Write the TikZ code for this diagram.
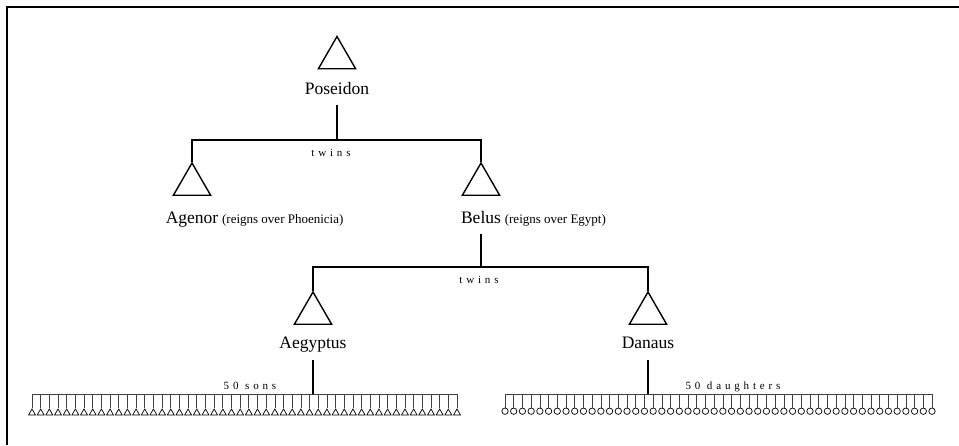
\documentclass[tikz,border=0pt]{standalone}
\usepackage{fontspec}
\setmainfont{Liberation Serif}
\newfontfamily\spacedfont[LetterSpace=35]{Liberation Serif}
\usetikzlibrary{shapes.geometric, positioning}
\tikzset{
  person/.style={font=\fontsize{17.5}{20}\selectfont, inner xsep=0pt, inner ysep=7pt, text depth=4pt},
  note/.style={font=\fontsize{13}{15}\selectfont, inner sep=0pt},
  tag/.style={font=\spacedfont\fontsize{11}{13}\selectfont, inner sep=0pt},
  male/.style={draw, regular polygon, regular polygon sides=3, minimum size=43pt, inner sep=0pt, line width=1.4pt},
  son/.style={draw, regular polygon, regular polygon sides=3, minimum size=8pt, inner sep=0pt, line width=0.7pt},
  daughter/.style={draw, circle, minimum size=6.4pt, inner sep=0pt, line width=0.7pt},
  line/.style={line width=1.4pt},
  ladder/.style={line width=0.7pt, black!75}
}

\begin{document}
\begin{tikzpicture}[x=1pt, y=-1pt]
  \useasboundingbox (0,0) rectangle (959,445);
  \draw[line width=2.2pt] (7,445) -- (7,7) -- (959,7);

  \node[male] (poseidontri) at (337,58) {};
  \node[person, anchor=base] (poseidon) at (337,94) {Poseidon};
  \coordinate (bar1) at (337,140);
  \node[tag, anchor=base] (twins1) at (331,156) {twins};

  \node[male] (agenortri) at (192,184.5) {};
  \node[male] (belustri) at (481,184.5) {};
  \node[person, anchor=base] (agenor) at (192,223) {Agenor};
  \node[note, anchor=base west] (agenornote) at ([xshift=3.5pt]agenor.base east) {(reigns over Phoenicia)};
  \node[person, anchor=base] (belus) at (481,223) {Belus};
  \node[note, anchor=base west] (belusnote) at ([xshift=3.5pt]belus.base east) {(reigns over Egypt)};
  \coordinate (bar2) at (481,267);
  \node[tag, anchor=base] (twins2) at (479,283) {twins};

  \node[male] (aegyptustri) at (313,313.5) {};
  \node[male] (danaustri) at (648,313.5) {};
  \node[person, anchor=base] (aegyptus) at (313,348.5) {Aegyptus};
  \node[person, anchor=base] (danaus) at (648,348.5) {Danaus};
  \coordinate (sonsbar) at (313,394);
  \coordinate (dausbar) at (648,394);
  \node[tag, anchor=base] (sons) at (250,389) {50 sons};
  \node[tag, anchor=base] (daughters) at (733,389) {50 daughters};

  \foreach \i in {0,...,49} {
    \node[son] (son\i) at (32+\i*8.6735,413) {};
    \node[daughter] (dau\i) at (505+\i*8.7143,411.2) {};
    \draw[ladder] (son\i.north) -- (son\i.north |- sonsbar);
    \draw[ladder] (dau\i.north) -- (dau\i.north |- dausbar);
  }
  \draw[ladder] (son0.north |- sonsbar) -- (son49.north |- sonsbar);
  \draw[ladder] (dau0.north |- dausbar) -- (dau49.north |- dausbar);

  \draw[line] (poseidon.south) -- (bar1);
  \draw[line] (agenortri.north) |- (bar1) -| (belustri.north);
  \draw[line] (belus.south) -- (bar2);
  \draw[line] (aegyptustri.north) |- (bar2) -| (danaustri.north);
  \draw[line] (aegyptus.south) -- (sonsbar);
  \draw[line] (danaus.south) -- (dausbar);
\end{tikzpicture}
\end{document}
